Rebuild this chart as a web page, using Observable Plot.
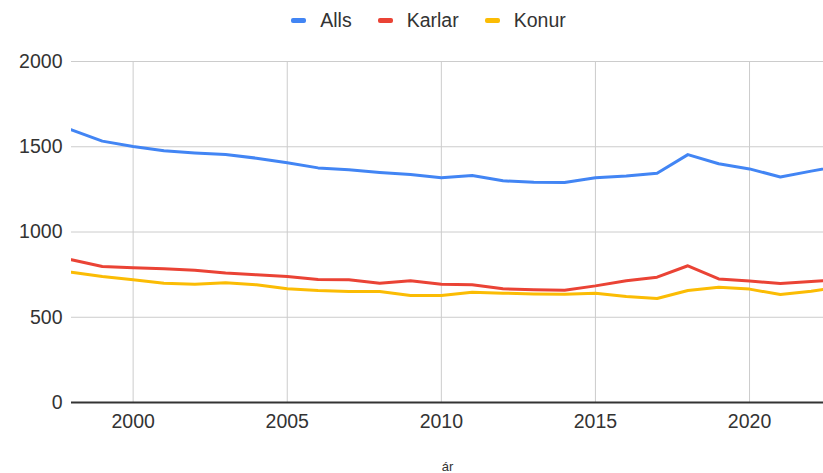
<!DOCTYPE html>
<html><head><meta charset="utf-8">
<script src="https://cdn.jsdelivr.net/npm/d3@7"></script>
<script src="https://cdn.jsdelivr.net/npm/@observablehq/plot@0.6"></script>
<style>
body{margin:0;background:#fff;font-family:"Liberation Sans", Arial, sans-serif;}
#legend{height:40px;display:flex;justify-content:center;align-items:center;gap:26px;font-size:19.5px;color:#333;padding-left:34px;box-sizing:border-box;width:823px}
.item{display:flex;align-items:center}
.sw{display:inline-block;width:15px;height:5px;border-radius:2px;margin-right:14px}
</style></head><body>
<div id="legend"></div><div id="chart"></div>
<script>
const years = [1998,1999,2000,2001,2002,2003,2004,2005,2006,2007,2008,2009,2010,2011,2012,2013,2014,2015,2016,2017,2018,2019,2020,2021,2022,2023];
const alls   = [1599,1533,1501,1476,1464,1454,1433,1406,1376,1365,1349,1337,1318,1331,1300,1292,1290,1318,1329,1345,1454,1400,1370,1323,1357,1390];
const karlar = [837,798,790,784,776,760,749,739,721,720,700,714,694,690,667,661,659,684,714,735,802,725,712,698,710,722];
const konur  = [764,739,720,700,694,702,690,667,657,651,651,628,628,647,641,637,635,641,622,610,657,676,665,633,653,680];
const seriesNames = ["Alls","Karlar","Konur"];
const seriesColors = ["#4285F4","#EA4335","#FBBC04"];
const xTicks = [2000,2005,2010,2015,2020];
const yTicks = [0,500,1000,1500,2000];
const xLabel = "ár";

const seriesValues = [alls, karlar, konur];
const data = [];
seriesNames.forEach((s, i) => years.forEach((y, j) => data.push({series: s, year: y, value: seriesValues[i][j]})));

const legend = document.getElementById("legend");
seriesNames.forEach((s, i) => {
  const it = document.createElement("div"); it.className = "item";
  const sw = document.createElement("span"); sw.className = "sw"; sw.style.background = seriesColors[i];
  it.appendChild(sw); it.appendChild(document.createTextNode(s));
  legend.appendChild(it);
});

const chart = Plot.plot({
  width: 823, height: 433,
  marginLeft: 71, marginRight: 0, marginTop: 21, marginBottom: 71,
  style: {fontFamily: "'Liberation Sans', Arial, sans-serif", fontSize: "19.5px", color: "#333", background: "#fff"},
  x: {domain: [1998, 2022.4]},
  y: {domain: [0, 2000]},
  color: {domain: seriesNames, range: seriesColors},
  marks: [
    Plot.gridX(xTicks, {stroke: "#ccc", strokeOpacity: 1}),
    Plot.gridY(yTicks.filter(d => d > 0), {stroke: "#ccc", strokeOpacity: 1}),
    Plot.axisX({ticks: xTicks, tickSize: 0, tickPadding: 12, tickFormat: d => String(d), label: null, fontSize: 19.5}),
    Plot.axisY({ticks: yTicks, tickSize: 0, tickPadding: 9, tickFormat: d => String(d), label: null, fontSize: 19.5}),
    Plot.line(data, {x: "year", y: "value", z: "series", stroke: "series", strokeWidth: 3, clip: true}),
    Plot.ruleY([0], {stroke: "#333", strokeWidth: 2}),
    Plot.text([xLabel], {text: d => d, frameAnchor: "bottom", lineAnchor: "middle", dy: 64, fontSize: 13, fill: "#333"})
  ]
});
document.getElementById("chart").appendChild(chart);
</script>
</body></html>
